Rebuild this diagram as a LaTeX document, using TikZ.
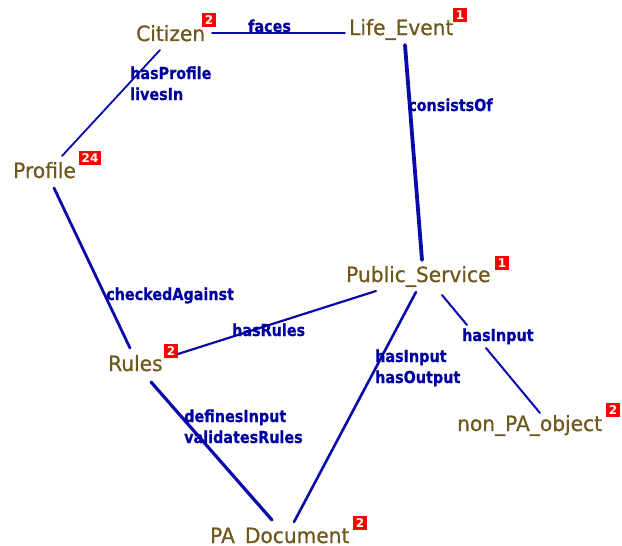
\documentclass[tikz,border=0pt]{standalone}
\usepackage{fontspec}
\setmainfont{DejaVu Sans}
\newfontfamily\conceptfont{DejaVu Sans}[FakeStretch=0.96, FakeBold=0.8]
\newfontfamily\lblfont{DejaVu Sans}[FakeStretch=0.87, FakeBold=0.5]
\definecolor{olive}{RGB}{110,88,28}
\definecolor{edgeblue}{RGB}{10,10,170}
\definecolor{lblblue}{RGB}{0,0,160}
\definecolor{badgered}{RGB}{255,0,0}
\tikzset{
  x=1pt, y=-1pt,
  concept/.style={anchor=base west, inner sep=0pt, text=olive, font=\conceptfont\fontsize{21}{21}\selectfont},
  badge/.style={fill=badgered, text=white, inner sep=0pt, minimum height=14pt, minimum width=14pt, font=\fontsize{12}{12}\selectfont\bfseries},
  rel/.style={anchor=base west, inner sep=0pt, text=lblblue, align=left, font=\lblfont\fontsize{16.5}{21}\selectfont\bfseries},
  edge/.style={draw=edgeblue, line cap=round}
}
\begin{document}
\begin{tikzpicture}
\useasboundingbox (0,0) rectangle (622,546);
% concepts
\node[concept] (citizen) at (136,41) {Citizen};
\node[badge] (citizenb) at (209,20) {2};
\node[concept] (life) at (349,35) {Life\_Event};
\node[badge] (lifeb) at (460,15) {1};
\node[concept] (profile) at (13,178) {Profile};
\node[badge, minimum width=22pt] (profileb) at (90,158) {24};
\node[concept] (ps) at (346,282) {Public\_Service};
\node[badge] (psb) at (502,263) {1};
\node[concept] (rules) at (108,371) {Rules};
\node[badge] (rulesb) at (171,351) {2};
\node[concept] (npa) at (457,431) {non\_PA\_object};
\node[badge] (npab) at (613,410) {2};
\node[concept] (pad) at (210,543) {PA\_Document};
\node[badge] (padb) at (360,523) {2};
% connector end points
\coordinate (c-e) at (212,33);
\coordinate (l-w) at (345,33);
\coordinate (c-s) at (160,50);
\coordinate (p-n) at (62,156);
\coordinate (l-s) at (405,45);
\coordinate (ps-n) at (422,260);
\coordinate (p-s) at (54,188);
\coordinate (r-n) at (130,348);
\coordinate (r-e) at (178,354);
\coordinate (ps-w) at (376,291);
\coordinate (ps-s) at (416,292);
\coordinate (pad-n) at (294,522);
\coordinate (ps-se) at (442,295);
\coordinate (gap-a) at (467,325);
\coordinate (gap-b) at (486,348);
\coordinate (npa-n) at (540,413);
\coordinate (r-s) at (151,382);
\coordinate (pad-nw) at (272,520);
% connectors
\draw[edge, line width=1.8pt] (c-e) -- (l-w);
\draw[edge, line width=1.8pt] (c-s) -- (p-n);
\draw[edge, line width=3.8pt] (l-s) -- (ps-n);
\draw[edge, line width=2.8pt] (p-s) -- (r-n);
\draw[edge, line width=2.2pt] (r-e) -- (ps-w);
\draw[edge, line width=2.6pt] (ps-s) -- (pad-n);
\draw[edge, line width=2pt] (ps-se) -- (gap-a);
\draw[edge, line width=2pt] (gap-b) -- (npa-n);
\draw[edge, line width=3.2pt] (r-s) -- (pad-nw);
% relation labels
\node[rel] (faces) at (248,32) {faces};
\node[rel] (hasprofile) at (130,100) {hasProfile\\livesIn};
\node[rel] (consists) at (408,111) {consistsOf};
\node[rel] (checked) at (106,300) {checkedAgainst};
\node[rel] (hasrules) at (232,336) {hasRules};
\node[rel] (hasinput1) at (462,341) {hasInput};
\node[rel] (hasio) at (375,383) {hasInput\\hasOutput};
\node[rel] (defines) at (184,443) {definesInput\\validatesRules};
\end{tikzpicture}
\end{document}
